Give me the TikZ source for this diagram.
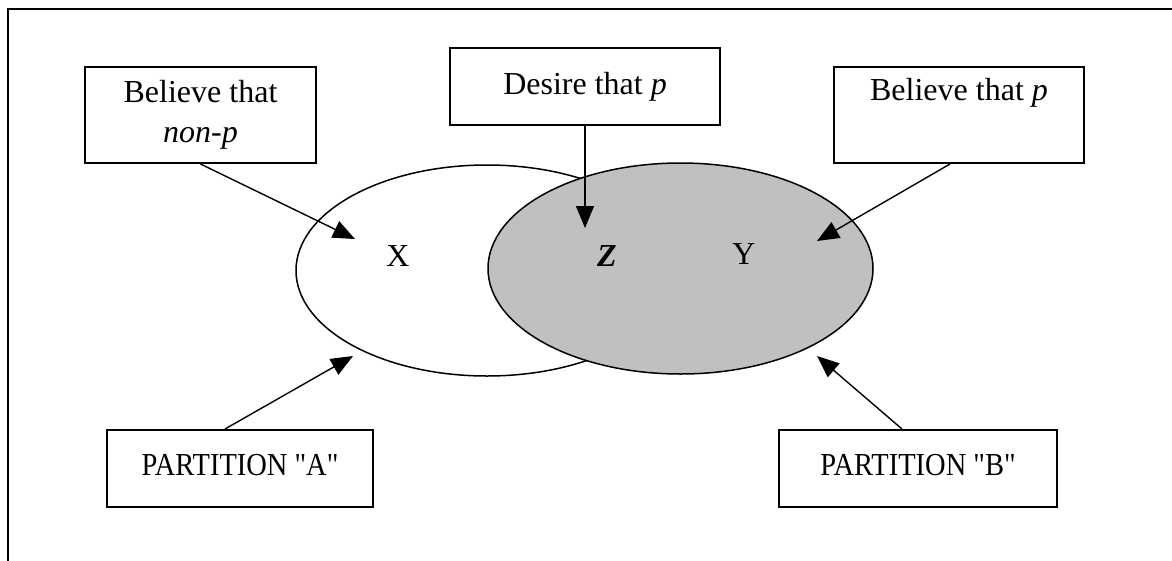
\documentclass[tikz,border=0pt]{standalone}
\usepackage{fontspec}
\setmainfont{Liberation Serif}
\usetikzlibrary{shapes.geometric,arrows.meta}
\definecolor{zonegray}{HTML}{C0C0C0}
\begin{document}
\begin{tikzpicture}[x=1pt,y=-1pt,
  txt/.style={font=\fontsize{32}{40}\selectfont},
  boxnode/.style={draw,line width=2pt,rectangle,inner sep=0pt,align=center,font=\fontsize{32}{40}\selectfont},
  zone/.style={draw,line width=1.5pt,ellipse,inner sep=0pt},
  conn/.style={line width=1.4pt,-{Triangle[length=22pt,width=18pt]}}]
\useasboundingbox (0,0) rectangle (1172,560);
\draw[line width=2pt] (8,562) -- (8,9) -- (1174,9);
% zones
\node[zone,fill=white,minimum width=382pt,minimum height=211pt] (ex) at (487,270.5) {};
\node[zone,fill=zonegray,minimum width=385pt,minimum height=211pt] (ey) at (680.5,268.5) {};
\node[txt] (lx) at (398,256) {X};
\node[txt] (lz) at (607,256) {\textbf{\textit{Z}}};
\node[txt] (ly) at (744,254) {Y};
% boxes
\node[boxnode,minimum width=231pt,minimum height=96pt] (b1) at (200.5,115) {Believe that\\\textit{non-p}};
\node[boxnode,minimum width=270pt,minimum height=77pt] (b2) at (585,86.5) {\raisebox{6pt}{Desire that \textit{p}}};
\node[boxnode,minimum width=250pt,minimum height=96pt] (b3) at (959,115) {Believe that \textit{p}\\\strut};
\node[boxnode,minimum width=266pt,minimum height=77pt] (ba) at (240,468.5) {\raisebox{8pt}{\scalebox{0.89}[1]{PARTITION \textquotedbl A\textquotedbl}}};
\node[boxnode,minimum width=278pt,minimum height=77pt] (bb) at (918,468.5) {\raisebox{8pt}{\scalebox{0.89}[1]{PARTITION \textquotedbl B\textquotedbl}}};
% arrow tips
\coordinate (t1) at (355,239);
\coordinate (t2) at (585,228);
\coordinate (t3) at (817,241);
\coordinate (ta) at (353,356);
\coordinate (tb) at (817,356);
\draw[conn] (b1.south) -- (t1);
\draw[conn] (b2.south) -- (t2);
\draw[conn] ([xshift=-9pt]b3.south) -- (t3);
\draw[conn] ([xshift=-15pt]ba.north) -- (ta);
\draw[conn] ([xshift=-16pt]bb.north) -- (tb);
\end{tikzpicture}
\end{document}
